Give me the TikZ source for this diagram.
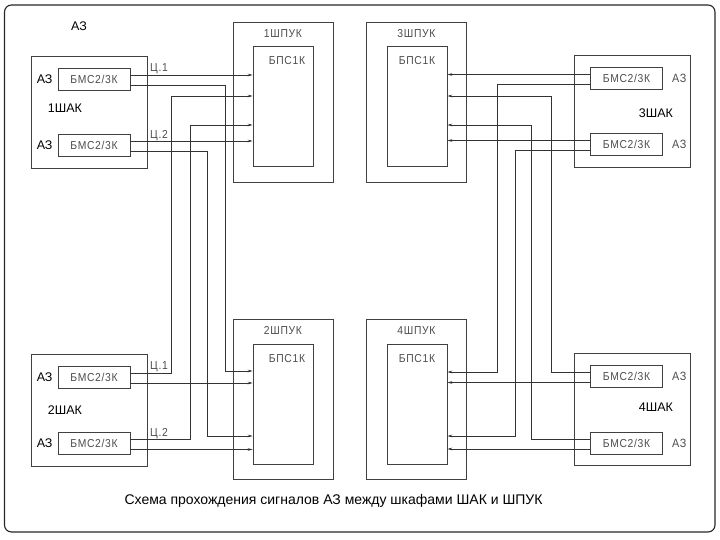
\documentclass[tikz,border=0pt]{standalone}
\usepackage{fontspec}
\setmainfont{Liberation Sans}
\newfontfamily\cadfont[FakeStretch=0.9,LetterSpace=6]{Liberation Sans}
\usetikzlibrary{arrows.meta}
\usetikzlibrary{positioning}

\begin{document}
\begin{tikzpicture}[x=1pt,y=-1pt,
        box/.style={draw=black!75,line width=0.6pt,rectangle,inner sep=0pt},
        shak/.style={box,minimum width=116pt,minimum height=112pt},
        shpuk/.style={box,minimum width=100pt,minimum height=160pt},
        bps/.style={box,minimum width=60pt,minimum height=120pt},
        cad/.style={font=\cadfont\fontsize{11.5}{13}\selectfont,text=black!70,inner sep=0pt},
        bms/.style={box,cad,minimum width=72pt,minimum height=22pt},
        lbl/.style={font=\fontsize{12.5}{14}\selectfont,inner sep=0pt},
        wire/.style={draw=black!80,line width=0.6pt},
        sig/.style={wire,-{Stealth[length=5pt,width=2.6pt]}}]
            \useasboundingbox (0,0) rectangle (720,540);
            \draw [black!85,line width=1.1pt,rounded corners=7pt] (4.5,5) rectangle (715,532);

            \node [shak] (shak1) at (89.5,112.5) {};
            \node [shak] (shak2) at (89.5,410) {};
            \node [shak] (shak3) at (632.5,111) {};
            \node [shak] (shak4) at (632.5,409.5) {};

            \node [bms] (bms11) at (94,79) {БМС2/3К};
            \node [bms] (bms12) at (94,145) {БМС2/3К};
            \node [bms] (bms21) at (94,377) {БМС2/3К};
            \node [bms] (bms22) at (94,443.5) {БМС2/3К};
            \node [bms] (bms31) at (626.5,78.5) {БМС2/3К};
            \node [bms] (bms32) at (626.5,144.5) {БМС2/3К};
            \node [bms] (bms41) at (626.5,376.5) {БМС2/3К};
            \node [bms] (bms42) at (626.5,443) {БМС2/3К};

            \node [shpuk] (shpuk1) at (283,102) {};
            \node [shpuk] (shpuk2) at (283,399) {};
            \node [shpuk] (shpuk3) at (416.5,102) {};
            \node [shpuk] (shpuk4) at (416.5,399) {};
            \node [bps] (bps1) at (283,106) {};
            \node [bps] (bps2) at (283,404) {};
            \node [bps] (bps3) at (417,106) {};
            \node [bps] (bps4) at (417,404) {};

            \node [cad,below=7.5pt of shpuk1.north] {1ШПУК};
            \node [cad,below=7.5pt of shpuk2.north] {2ШПУК};
            \node [cad,below=7.5pt of shpuk3.north] {3ШПУК};
            \node [cad,below=7.5pt of shpuk4.north] {4ШПУК};
            \node [cad,below=10.5pt of bps1.north,xshift=4pt] {БПС1К};
            \node [cad,below=10.5pt of bps2.north,xshift=4pt] {БПС1К};
            \node [cad,below=10.5pt of bps3.north] {БПС1К};
            \node [cad,below=10.5pt of bps4.north] {БПС1К};

            \node [lbl] (az) at (79,26) {АЗ};
            \node [lbl,left=5pt of bms11] {АЗ};
            \node [lbl,left=5pt of bms12] {АЗ};
            \node [lbl,left=5pt of bms21] {АЗ};
            \node [lbl,left=5pt of bms22] {АЗ};
            \node [cad,font=\cadfont\fontsize{12}{13}\selectfont,right=9pt of bms31] {АЗ};
            \node [cad,font=\cadfont\fontsize{12}{13}\selectfont,right=9pt of bms32] {АЗ};
            \node [cad,font=\cadfont\fontsize{12}{13}\selectfont,right=9pt of bms41] {АЗ};
            \node [cad,font=\cadfont\fontsize{12}{13}\selectfont,right=9pt of bms42] {АЗ};

            \node [lbl] (n1) at (65,108) {1ШАК};
            \node [lbl] (n2) at (65,410) {2ШАК};
            \node [lbl] (n3) at (656,113) {3ШАК};
            \node [lbl] (n4) at (656,407) {4ШАК};

            \node [cad,anchor=base west] at (150,72) {Ц.1};
            \node [cad,anchor=base west] at (150,139) {Ц.2};
            \node [cad,anchor=base west] at (150,369) {Ц.1};
            \node [cad,anchor=base west] at (150,436) {Ц.2};

            \coordinate (c1) at (171,96);
            \coordinate (c2) at (190,125);
            \coordinate (c3) at (207,436);
            \coordinate (c4) at (225,371);
            \coordinate (c5) at (497,372);
            \coordinate (c6) at (515,436);
            \coordinate (c7) at (531,125);
            \coordinate (c8) at (551,96);

            \draw [sig] ([yshift=4pt]bms11.east) coordinate (w11) -- (w11 -| bps1.west);
            \draw [sig] ([yshift=4pt]bms12.east) coordinate (w12) -- (w12 -| bps1.west);
            \draw [sig] ([yshift=-6pt]bms21.east) coordinate (w21) -- (w21 -| bps2.west);
            \draw [sig] ([yshift=-6pt]bms22.east) coordinate (w22) -- (w22 -| bps2.west);
            \draw [sig] ([yshift=4pt]bms21.east) -| (c1) -- (c1 -| bps1.west);
            \draw [sig] ([yshift=4pt]bms22.east) -| (c2) -- (c2 -| bps1.west);
            \draw [sig] ([yshift=-6pt]bms12.east) -| (c3) -- (c3 -| bps2.west);
            \draw [sig] ([yshift=-6pt]bms11.east) -| (c4) -- (c4 -| bps2.west);

            \draw [sig] ([yshift=4pt]bms31.west) coordinate (w31) -- (w31 -| bps3.east);
            \draw [sig] ([yshift=4pt]bms32.west) coordinate (w32) -- (w32 -| bps3.east);
            \draw [sig] ([yshift=-6pt]bms41.west) coordinate (w41) -- (w41 -| bps4.east);
            \draw [sig] ([yshift=-6pt]bms42.west) coordinate (w42) -- (w42 -| bps4.east);
            \draw [sig] ([yshift=-6pt]bms31.west) -| (c5) -- (c5 -| bps4.east);
            \draw [sig] ([yshift=-6pt]bms32.west) -| (c6) -- (c6 -| bps4.east);
            \draw [sig] ([yshift=4pt]bms42.west) -| (c7) -- (c7 -| bps3.east);
            \draw [sig] ([yshift=4pt]bms41.west) -| (c8) -- (c8 -| bps3.east);

            \node [font=\fontsize{14}{16}\selectfont,inner sep=0pt] (title) at (333.5,501) {Схема прохождения сигналов АЗ между шкафами ШАК и ШПУК};
        \end{tikzpicture}
\end{document}
